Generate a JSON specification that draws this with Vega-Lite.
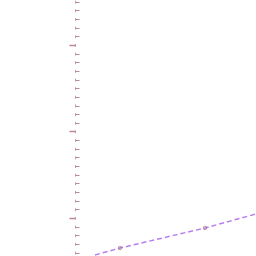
{
  "$schema": "https://vega.github.io/schema/vega-lite/v6.json",
  "width": 256,
  "height": 256,
  "padding": 0,
  "autosize": {"type": "fit", "contains": "padding"},
  "background": "white",
  "config": {"view": {"stroke": null}},
  "data": {"values": [
    {"x": 20, "y": 15.72, "m": 0},
    {"x": 45, "y": 16.52, "m": 1},
    {"x": 130, "y": 18.84, "m": 1},
    {"x": 181, "y": 20.46, "m": 0}
  ]},
  "layer": [
    {
      "mark": {"type": "line", "color": "#b77ef0", "strokeWidth": 1.5, "strokeDash": [5, 3], "clip": true},
      "encoding": {
        "x": {"field": "x", "type": "quantitative", "scale": {"domain": [-75, 181], "nice": false, "zero": false}, "axis": null},
        "y": {"field": "y", "type": "quantitative", "scale": {"domain": [15.6, 45.2], "nice": false, "zero": false},
          "axis": {
            "offset": -75,
            "tickCount": 200,
            "values": [16,17,18,19,20,21,22,23,24,25,26,27,28,29,30,31,32,33,34,35,36,37,38,39,40,41,42,43,44,45],
            "labels": false, "title": null, "grid": false,
            "domainColor": "#c797ad", "domainWidth": 1,
            "domainDash": [3, 5.65], "domainDashOffset": 6.65,
            "tickColor": "#b9869e",
            "tickSize": {"condition": {"test": "datum.value % 10 === 0", "value": 6}, "value": -4},
            "tickWidth": {"condition": {"test": "datum.value % 10 === 0", "value": 1.5}, "value": 1}
          }}
      }
    },
    {
      "transform": [{"filter": "datum.m === 1"}],
      "mark": {"type": "point", "shape": "circle", "size": 12, "color": "#9a6a7a", "filled": false, "strokeWidth": 1},
      "encoding": {
        "x": {"field": "x", "type": "quantitative"},
        "y": {"field": "y", "type": "quantitative"}
      }
    }
  ]
}
